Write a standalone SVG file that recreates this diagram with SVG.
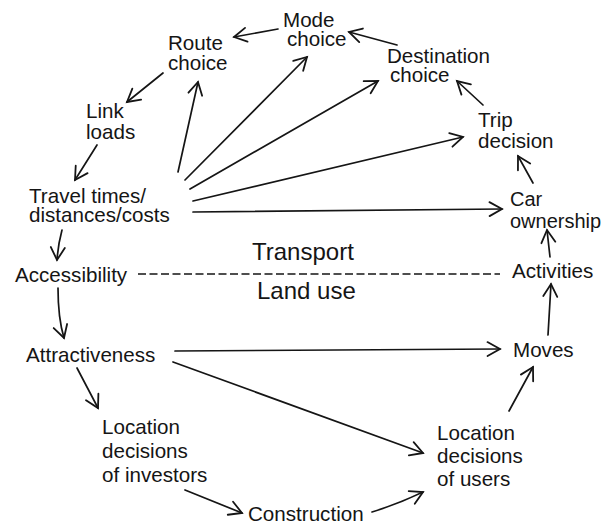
<svg xmlns="http://www.w3.org/2000/svg" width="603" height="526" viewBox="0 0 603 526">
<defs>
<style>
text{font-family:"Liberation Sans",Arial,sans-serif;font-size:20.6px;fill:#151515}
.big{font-size:24px}
.c{fill:none;stroke:#151515;stroke-width:1.7;stroke-linecap:round}
.d{fill:none;stroke:#151515;stroke-width:1.5;stroke-dasharray:8 3.5}
</style>
<marker id="ah" markerUnits="userSpaceOnUse" markerWidth="30" markerHeight="30" viewBox="-15 -15 30 30" refX="0" refY="0" orient="auto">
<path d="M-12.5,-7 L0,0 L-12.5,7" fill="none" stroke="#151515" stroke-width="1.8" stroke-linecap="round" stroke-linejoin="miter"/>
</marker>
</defs>
<rect width="603" height="526" fill="#fff"/>
<g id="connectors">
<path class="c" marker-end="url(#ah)" d="M278,29 L234,37"/>
<path class="c" marker-end="url(#ah)" d="M397,45 L349,32"/>
<path class="c" marker-end="url(#ah)" d="M163,73 L127,102"/>
<path class="c" marker-end="url(#ah)" d="M97,145 L75,180"/>
<path class="c" marker-end="url(#ah)" d="M178,172 L198,82"/>
<path class="c" marker-end="url(#ah)" d="M185,180 L307,57"/>
<path class="c" marker-end="url(#ah)" d="M190,189 L378,81"/>
<path class="c" marker-end="url(#ah)" d="M193,201 L463,137"/>
<path class="c" marker-end="url(#ah)" d="M193,212 L502,209"/>
<path class="c" marker-end="url(#ah)" d="M483,105 L457,81"/>
<path class="c" marker-end="url(#ah)" d="M533,183 L518,156"/>
<path class="c" marker-end="url(#ah)" d="M550,257 L547,230"/>
<path class="c" marker-end="url(#ah)" d="M548,335 L551,284"/>
<path class="c" marker-end="url(#ah)" d="M62,230 Q58,245 57,260"/>
<path class="c" marker-end="url(#ah)" d="M58,288 Q58,318 64,338"/>
<path class="c" marker-end="url(#ah)" d="M77,368 L98,408"/>
<path class="c" marker-end="url(#ah)" d="M175,351 L500,349"/>
<path class="c" marker-end="url(#ah)" d="M173,362 L423,453"/>
<path class="c" marker-end="url(#ah)" d="M185,490 Q215,502 242,513"/>
<path class="c" marker-end="url(#ah)" d="M372,512 Q398,504 423,492"/>
<path class="c" marker-end="url(#ah)" d="M509,411 L533,367"/>
<path class="d" d="M138,274 L500,274"/>
</g>
<g id="mode-choice"><text x="283" y="27">Mode<tspan x="287" dy="19">choice</tspan></text></g>
<g id="route-choice"><text x="168" y="50">Route<tspan x="168" dy="20">choice</tspan></text></g>
<g id="destination-choice"><text x="387" y="63">Destination<tspan x="390" dy="19">choice</tspan></text></g>
<g id="link-loads"><text x="86" y="118">Link<tspan x="86" dy="21">loads</tspan></text></g>
<g id="trip-decision"><text x="478" y="127">Trip<tspan x="478" dy="21">decision</tspan></text></g>
<g id="travel-times"><text x="29" y="203">Travel times/<tspan x="29" dy="19">distances/costs</tspan></text></g>
<g id="car-ownership"><text x="510" y="206" style="font-size:20px">Car<tspan x="510" dy="22">ownership</tspan></text></g>
<g id="accessibility"><text x="15" y="282">Accessibility</text></g>
<g id="activities"><text x="512" y="278">Activities</text></g>
<g id="transport"><text class="big" x="252" y="260">Transport</text></g>
<g id="land-use"><text class="big" x="257" y="299">Land use</text></g>
<g id="attractiveness"><text x="26" y="362">Attractiveness</text></g>
<g id="moves"><text x="513" y="357">Moves</text></g>
<g id="location-investors"><text x="102" y="434">Location<tspan x="102" dy="24">decisions</tspan><tspan x="102" dy="24">of investors</tspan></text></g>
<g id="location-users"><text x="437" y="440">Location<tspan x="437" dy="23">decisions</tspan><tspan x="437" dy="23">of users</tspan></text></g>
<g id="construction"><text x="248" y="521">Construction</text></g>
</svg>
